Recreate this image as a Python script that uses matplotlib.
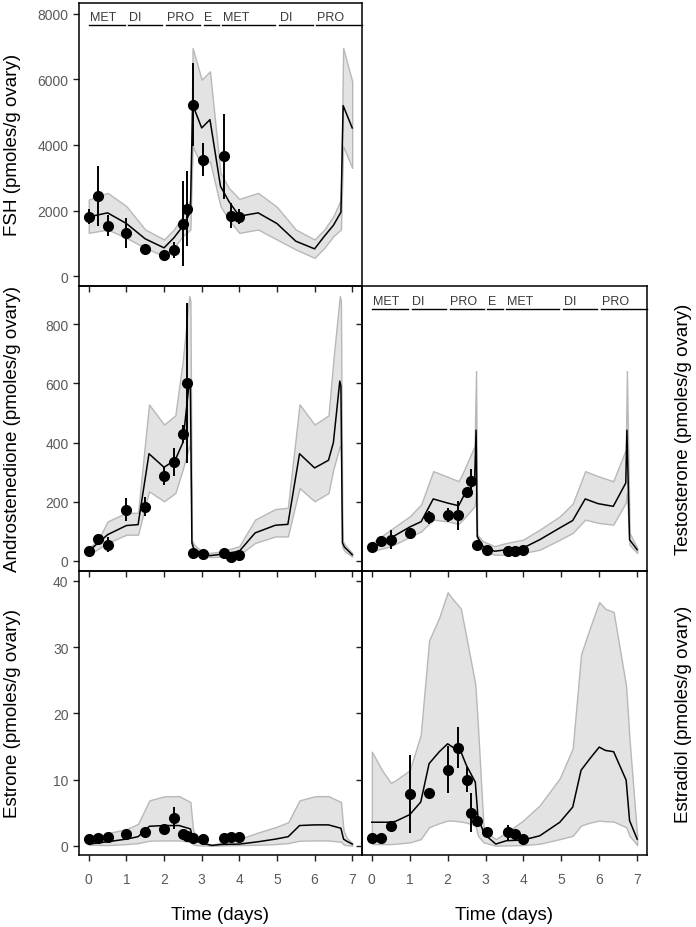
"""
Ovarian hormone content over the rat estrous cycle: model band vs. data.
Writes out.png.
"""
import matplotlib
matplotlib.use("Agg")
import matplotlib.pyplot as plt

plt.rcParams["font.family"] = ["Liberation Sans", "DejaVu Sans"]

INK = "#000000"
TICK_TXT = "#5a5a5a"
BAND = "#e3e3e3"
BAND_E = "#b8b8b8"

# ---- observation times (days) shared by all hormones ----
T_OBS = [0, 0.25, 0.5, 1.0, 1.5, 2.0, 2.27, 2.5, 2.62, 2.78, 3.03, 3.58, 3.78, 3.98]

# ---- FSH ----
FSH_OBS = [1807, 2436, 1543, 1320, 832, 660, 792, 1604, 2050, 5227, 3553, 3654, 1847, 1807]
FSH_ERR = [230, 910, 320, 450, 100, 60, 240, 1290, 1140, 1270, 500, 1300, 380, 230]
FSH_T = [0, 0.5, 1.0, 1.5, 2.0, 2.26, 2.5, 2.70, 2.76, 3.0, 3.22, 3.5, 3.72, 4.0,
         4.5, 5.0, 5.5, 6.0, 6.26, 6.5, 6.70, 6.76, 7.0]
FSH_MEAN = [1807, 1929, 1604, 1137, 863, 1167, 1523, 1950, 5227, 4517, 4770, 2740, 2284, 1827,
            1929, 1604, 1066, 832, 1218, 1550, 1950, 5197, 4517]
FSH_HI = [2335, 2538, 2132, 1421, 1117, 1421, 1827, 2335, 6953, 5989, 6243, 3147, 2690, 2355,
          2538, 2111, 1421, 1117, 1421, 1827, 2335, 6953, 5938]
FSH_LO = [1320, 1421, 1167, 863, 609, 863, 1218, 1421, 3959, 3350, 3500, 2132, 1726, 1320,
          1421, 1117, 812, 558, 863, 1218, 1421, 3959, 3299]

# ---- Androstenedione ----
AND_OBS = [32, 75, 54, 173, 182, 286, 334, 430, 602, 26, 23, 26, 12, 20]
AND_ERR = [0, 0, 25, 38, 32, 30, 48, 30, 270, 0, 0, 0, 0, 0]
AND_T = [0, 0.25, 0.5, 1.0, 1.31, 1.6, 2.0, 2.3, 2.5, 2.67, 2.70, 2.74, 2.8, 3.0, 3.23, 3.54, 4.0,
         4.42, 4.96, 5.29, 5.6, 6.0, 6.37, 6.5, 6.67, 6.70, 6.74, 6.8, 7.0]
AND_MEAN = [33, 60, 88, 119, 122, 362, 316, 342, 400, 605, 590, 60, 38, 26, 17, 22, 32,
            94, 120, 123, 362, 314, 340, 400, 608, 590, 60, 45, 20]
AND_HI = [43, 70, 133, 162, 162, 529, 461, 492, 680, 896, 880, 70, 54, 32, 26, 32, 49,
          139, 175, 179, 529, 461, 492, 680, 896, 880, 70, 54, 26]
AND_LO = [20, 40, 60, 88, 88, 235, 201, 229, 310, 388, 380, 45, 32, 20, 12, 14, 20,
          60, 82, 82, 246, 201, 229, 310, 388, 380, 45, 32, 14]

# ---- Testosterone ----
TES_OBS = [45, 66, 71, 92, 147, 155, 153, 233, 270, 54, 37, 34, 34, 37]
TES_ERR = [0, 5, 33, 5, 22, 24, 50, 15, 40, 0, 0, 0, 0, 0]
TES_T = [0, 0.5, 1.0, 1.3, 1.62, 2.0, 2.29, 2.41, 2.71, 2.75, 2.78, 2.93, 3.24, 3.55, 3.99,
         4.43, 4.96, 5.3, 5.63, 5.97, 6.37, 6.70, 6.73, 6.8, 7.0]
TES_MEAN = [45, 77, 114, 132, 209, 195, 186, 216, 263, 442, 82, 49, 32, 37, 43,
            71, 111, 136, 209, 193, 184, 263, 442, 71, 37]
TES_HI = [60, 105, 150, 190, 303, 284, 269, 300, 388, 642, 88, 66, 49, 60, 71,
          105, 150, 193, 303, 286, 269, 376, 642, 94, 43]
TES_LO = [32, 49, 80, 99, 139, 133, 125, 140, 184, 229, 54, 32, 20, 20, 26,
          37, 71, 94, 139, 128, 122, 196, 229, 54, 26]

# ---- Estrone ----
E1_OBS = [1.0, 1.17, 1.37, 1.78, 2.13, 2.54, 4.16, 1.8, 1.4, 1.15, 1.0, 1.12, 1.27, 1.37]
E1_ERR = [0, 0, 0, 0, 0, 0, 1.7, 0, 0, 0, 0, 0, 0, 0]
E1_T = [0, 0.5, 1.0, 1.31, 1.61, 2.0, 2.4, 2.7, 2.77, 2.85, 3.0, 3.27, 3.54, 4.0,
        4.5, 4.96, 5.3, 5.6, 6.0, 6.37, 6.7, 6.77, 6.85, 7.0]
E1_MEAN = [0.25, 0.6, 1.0, 1.37, 2.94, 3.05, 3.05, 2.54, 1.0, 0.7, 0.4, 0.05, 0.2, 0.25,
           0.6, 1.0, 1.37, 3.05, 3.15, 3.15, 2.64, 1.0, 0.7, 0.25]
E1_HI = [0.76, 1.9, 2.5, 3.3, 6.85, 7.46, 7.5, 6.6, 2.5, 1.0, 0.5, 0.15, 0.5, 1.0,
         2.0, 2.8, 3.55, 6.85, 7.46, 7.5, 6.6, 2.3, 1.2, 0.4]
E1_LO = [0.15, 0.1, 0.25, 0.4, 0.76, 0.8, 0.8, 0.6, 0.2, 0.1, 0.05, 0.0, 0.05, 0.1,
         0.15, 0.25, 0.4, 0.76, 0.8, 0.8, 0.6, 0.2, 0.1, 0.0]

# ---- Estradiol ----
E2_OBS = [1.17, 1.17, 3.05, 7.87, 8.0, 11.5, 14.8, 10.0, 5.0, 3.8, 2.0, 2.0, 1.8, 1.0]
E2_ERR = [0, 0, 0.7, 5.9, 0.7, 3.5, 3.1, 1.9, 3.0, 0, 0.3, 1.1, 0, 0]
E2_T = [0, 0.27, 0.5, 0.63, 1.0, 1.29, 1.51, 1.78, 2.0, 2.13, 2.35, 2.49, 2.73, 2.8, 2.95,
        3.02, 3.27, 3.55, 3.99, 4.43, 4.96, 5.3, 5.52, 5.76, 6.0, 6.16, 6.38, 6.71, 6.8, 7.0]
E2_MEAN = [3.55, 3.55, 3.55, 3.7, 4.7, 6.6, 12.4, 14.2, 15.4, 14.9, 14.2, 12.2, 9.6, 4.3, 2.0,
           1.5, 0.25, 0.76, 0.86, 1.5, 3.55, 5.84, 11.4, 13.2, 14.9, 14.4, 14.2, 9.9, 3.8, 1.0]
E2_HI = [14.2, 11.4, 9.5, 9.9, 11.4, 16.75, 31, 34.5, 38.3, 37.3, 35.8, 31.6, 24.4, 18, 2.5,
         2.0, 1.0, 2.0, 3.8, 6.1, 10.2, 14.7, 28.9, 33, 36.8, 35.8, 35.3, 24.1, 16, 1.5]
E2_LO = [0.25, 0.25, 0.25, 0.3, 0.5, 1.0, 2.8, 3.4, 3.8, 3.8, 3.65, 3.5, 3.05, 1.5, 0.5,
         0.4, 0.0, 0.05, 0.1, 0.3, 1.0, 1.5, 3.05, 3.5, 3.8, 3.7, 3.65, 2.8, 1.5, 0.1]

# ---- estrous stages ----
STAGES = ["MET", "DI", "PRO", "E", "MET", "DI", "PRO"]
STAGE_START = [0, 1, 2, 3, 3.5, 5, 6]
STAGE_END = [1, 2, 3, 3.5, 5, 6, 7.25]

XTICKS = [0, 1, 2, 3, 4, 5, 6, 7]
XLIM = (-0.26, 7.26)


def panel(ax, t, mean, lo, hi, obs, err):
    ax.fill_between(t, lo, hi, facecolor=BAND, edgecolor=BAND_E, linewidth=1.0, zorder=1)
    ax.plot(t, mean, color=INK, lw=1.1, zorder=3)
    ax.errorbar(T_OBS, obs, yerr=err, fmt="o", color=INK, ms=7.0,
                elinewidth=1.4, capsize=0, zorder=4)
    ax.set_xlim(*XLIM)
    ax.set_xticks(XTICKS)
    ax.patch.set_visible(False)
    for s in ax.spines.values():
        s.set_linewidth(1.1)
    ax.tick_params(direction="out", length=4.5, width=1.0, color="#222222",
                   labelcolor=TICK_TXT, labelsize=10)
    ax.tick_params(axis="x", pad=8)
    ax.tick_params(axis="y", pad=3)


def stages(ax):
    for name, s, e in zip(STAGES, STAGE_START, STAGE_END):
        x0 = s + 0.05 if s > 0 else s
        x1 = e - 0.05 if e < 7 else e
        ax.plot([x0, x1], [0.92, 0.92], color=INK, lw=1.0,
                transform=ax.get_xaxis_transform(), clip_on=False, zorder=5)
        ax.text(x0 + 0.02, 0.928, name, transform=ax.get_xaxis_transform(),
                ha="left", va="bottom", fontsize=9, color="#3a3a3a")


def main():
    fig = plt.figure(figsize=(6.96, 9.28), dpi=100)
    W, H = 696.0, 928.0

    def rect(x0, x1, y0, y1):
        return [x0 / W, 1 - y1 / H, (x1 - x0) / W, (y1 - y0) / H]

    ax_fsh = fig.add_axes(rect(79, 362, 3.5, 287))
    ax_and = fig.add_axes(rect(79, 362, 287, 572))
    ax_tes = fig.add_axes(rect(362, 647, 287, 572))
    ax_e1 = fig.add_axes(rect(79, 362, 572, 856))
    ax_e2 = fig.add_axes(rect(362, 647, 572, 856))

    panel(ax_fsh, FSH_T, FSH_MEAN, FSH_LO, FSH_HI, FSH_OBS, FSH_ERR)
    panel(ax_and, AND_T, AND_MEAN, AND_LO, AND_HI, AND_OBS, AND_ERR)
    panel(ax_tes, TES_T, TES_MEAN, TES_LO, TES_HI, TES_OBS, TES_ERR)
    panel(ax_e1, E1_T, E1_MEAN, E1_LO, E1_HI, E1_OBS, E1_ERR)
    panel(ax_e2, E2_T, E2_MEAN, E2_LO, E2_HI, E2_OBS, E2_ERR)

    ax_fsh.set_ylim(-300, 8340)
    ax_fsh.set_yticks([0, 2000, 4000, 6000, 8000])
    for ax in (ax_and, ax_tes):
        ax.set_ylim(-35, 930)
        ax.set_yticks([0, 200, 400, 600, 800])
    for ax in (ax_e1, ax_e2):
        ax.set_ylim(-1.4, 41.5)
        ax.set_yticks([0, 10, 20, 30, 40])

    for ax in (ax_fsh, ax_and, ax_tes):
        ax.tick_params(axis="x", labelbottom=False)
    for ax in (ax_tes, ax_e2):
        ax.tick_params(axis="y", labelleft=False)

    stages(ax_fsh)
    stages(ax_tes)

    lab = dict(fontsize=13.5, color=INK)
    ax_fsh.set_ylabel("FSH (pmoles/g ovary)", **lab)
    ax_and.set_ylabel("Androstenedione (pmoles/g ovary)", **lab)
    ax_e1.set_ylabel("Estrone (pmoles/g ovary)", **lab)
    for ax in (ax_fsh, ax_and, ax_e1):
        ax.yaxis.set_label_coords(-0.205, 0.5)
    ax_tes.set_ylabel("Testosterone (pmoles/g ovary)", **lab)
    ax_e2.set_ylabel("Estradiol (pmoles/g ovary)", **lab)
    for ax in (ax_tes, ax_e2):
        ax.yaxis.set_label_position("right")
        ax.yaxis.set_label_coords(1.098, 0.5)

    for ax in (ax_e1, ax_e2):
        ax.set_xlabel("Time (days)", labelpad=14, **lab)

    fig.savefig("out.png", dpi=100, facecolor="white")


if __name__ == "__main__":
    main()
